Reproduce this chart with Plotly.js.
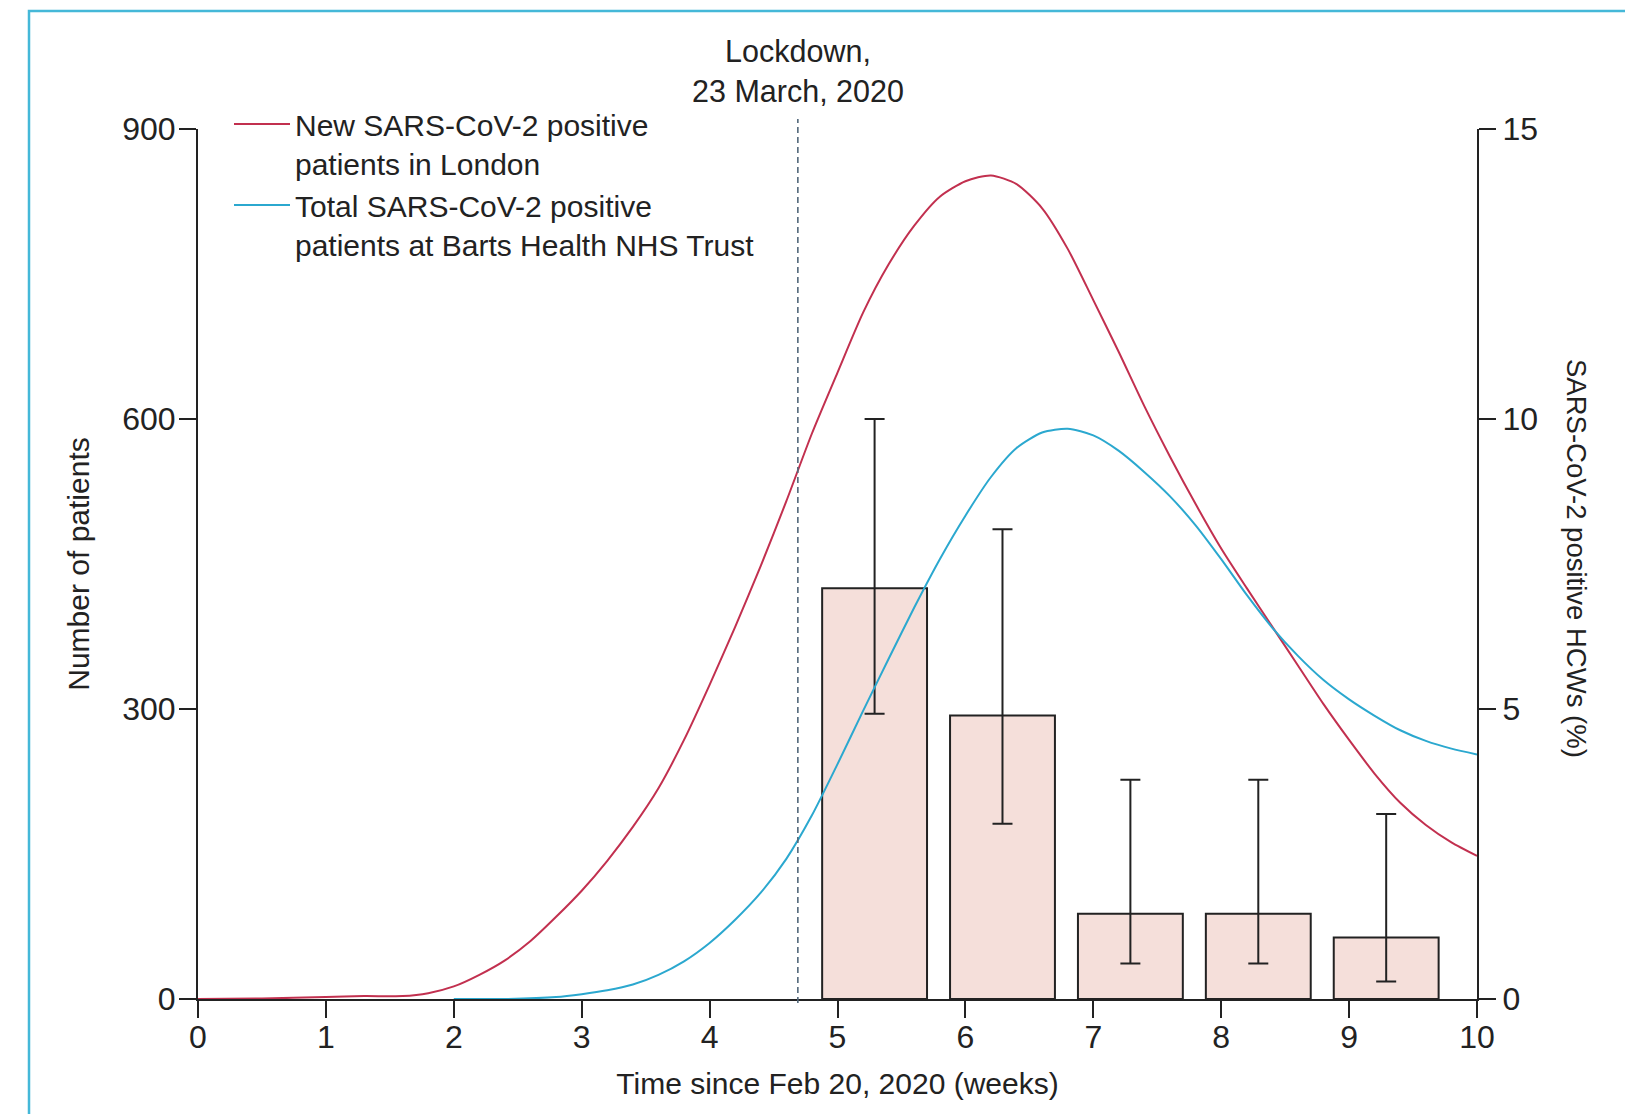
<!DOCTYPE html>
<html>
<head>
<meta charset="utf-8">
<script src="https://cdn.plot.ly/plotly-3.0.1.min.js"></script>
<style>
  html, body { margin: 0; padding: 0; background: #fff; }
  #chart { width: 1625px; height: 1114px; }
</style>
</head>
<body>
<div id="chart"></div>
<script>
// ---- Data ----
// New SARS-CoV-2 positive patients in London (left axis)
const weeksLondon = [0, 0.5, 1.0, 1.3, 1.6, 1.8, 2.0, 2.2, 2.4, 2.6, 2.8, 3.0, 3.2, 3.4, 3.6, 3.8, 4.0, 4.2, 4.4, 4.6, 4.8, 5.0, 5.2, 5.4, 5.6, 5.8, 6.0, 6.2, 6.4, 6.6, 6.8, 7.0, 7.2, 7.4, 7.6, 7.8, 8.0, 8.2, 8.4, 8.6, 8.8, 9.0, 9.2, 9.4, 9.6, 9.8, 10.0];
const londonNew = [0, 0.5, 2, 3, 3, 6, 13, 25, 40, 60, 85, 112, 143, 178, 218, 268, 325, 385, 448, 515, 585, 648, 710, 760, 800, 830, 846, 852, 843, 818, 776, 723, 669, 613, 561, 512, 466, 425, 385, 345, 305, 268, 233, 203, 180, 162, 148];

// Total SARS-CoV-2 positive patients at Barts Health NHS Trust (left axis)
const weeksBarts = [2.0, 2.4, 2.8, 3.0, 3.2, 3.4, 3.6, 3.8, 4.0, 4.2, 4.4, 4.6, 4.8, 5.0, 5.2, 5.4, 5.6, 5.8, 6.0, 6.2, 6.4, 6.6, 6.8, 7.0, 7.2, 7.4, 7.6, 7.8, 8.0, 8.2, 8.4, 8.6, 8.8, 9.0, 9.2, 9.4, 9.6, 9.8, 10.0];
const bartsTotal = [0, 0, 2, 5, 9, 15, 25, 39, 58, 82, 110, 145, 190, 243, 298, 352, 405, 455, 500, 540, 570, 586, 590, 583, 567, 545, 520, 490, 455, 418, 384, 355, 330, 310, 293, 278, 267, 259, 253];

// SARS-CoV-2 positive HCWs (%) with confidence limits (right axis)
const hcwWeeks = [5.29, 6.29, 7.29, 8.29, 9.29];
const hcwPercent = [7.08, 4.89, 1.47, 1.47, 1.06];
const hcwUpper = [10.0, 8.1, 3.78, 3.78, 3.19];
const hcwLower = [4.92, 3.02, 0.61, 0.61, 0.30];

// Lockdown marker
const lockdownWeek = 4.69;
const lockdownLabel = "Lockdown,<br>23 March, 2020";

// Tick labels
const xTicks = [0, 1, 2, 3, 4, 5, 6, 7, 8, 9, 10];
const patientTicks = [0, 300, 600, 900];
const hcwTicks = [0, 5, 10, 15];

// ---- Styles ----
const FONT = "'Liberation Sans', Arial, sans-serif";
const INK = "#222222";
const RED = "#c2304f";
const BLUE = "#2ba8cf";

const traces = [
  {
    type: "bar",
    x: hcwWeeks,
    y: hcwPercent,
    yaxis: "y",
    width: 0.82,
    marker: { color: "#f5dfda", line: { color: INK, width: 2 } },
    error_y: {
      type: "data",
      symmetric: false,
      array: hcwUpper.map((u, i) => u - hcwPercent[i]),
      arrayminus: hcwLower.map((l, i) => hcwPercent[i] - l),
      color: INK,
      thickness: 2,
      width: 10
    },
    showlegend: false,
    hoverinfo: "x+y"
  },
  {
    type: "scatter",
    mode: "lines",
    x: weeksLondon,
    y: londonNew,
    yaxis: "y2",
    name: "New SARS-CoV-2 positive<br>patients in London",
    line: { color: RED, width: 2, shape: "spline", smoothing: 0.7 }
  },
  {
    type: "scatter",
    mode: "lines",
    x: weeksBarts,
    y: bartsTotal,
    yaxis: "y2",
    name: "Total SARS-CoV-2 positive<br>patients at Barts Health NHS Trust",
    line: { color: BLUE, width: 2, shape: "spline", smoothing: 0.7 }
  }
];

const L = 198, R = 148, T = 129, B = 115;
const W = 1625, H = 1114;
const pw = W - L - R, ph = H - T - B;
const px = (p) => (p - L) / pw;           // pixel x -> paper
const py = (p) => (H - B - p) / ph;       // pixel y -> paper

const TICKFONT = { family: FONT, size: 32, color: INK };

const layout = {
  width: W,
  height: H,
  margin: { l: L, r: R, t: T, b: B },
  paper_bgcolor: "#ffffff",
  plot_bgcolor: "#ffffff",
  font: { family: FONT, size: 30, color: INK },
  bargap: 0,
  xaxis: {
    range: [0, 10],
    tickvals: xTicks,
    ticktext: xTicks.map(String),
    ticks: "outside",
    ticklen: 17,
    tickwidth: 2,
    tickcolor: INK,
    ticklabelstandoff: -8,
    showline: true,
    linecolor: INK,
    linewidth: 2,
    showgrid: false,
    zeroline: false,
    tickfont: TICKFONT,
    title: { text: "Time since Feb 20, 2020 (weeks)", font: { family: FONT, size: 30, color: INK }, standoff: 19 }
  },
  yaxis: {
    range: [0, 15],
    side: "right",
    tickvals: hcwTicks,
    ticktext: hcwTicks.map(String),
    ticks: "outside",
    ticklen: 17,
    tickwidth: 2,
    tickcolor: INK,
    showline: true,
    linecolor: INK,
    linewidth: 2,
    showgrid: false,
    zeroline: false,
    tickfont: TICKFONT
  },
  yaxis2: {
    range: [0, 900],
    overlaying: "y",
    side: "left",
    tickvals: patientTicks,
    ticktext: patientTicks.map(String),
    ticks: "outside",
    ticklen: 17,
    tickwidth: 2,
    tickcolor: INK,
    ticklabelstandoff: -3,
    showline: true,
    linecolor: INK,
    linewidth: 2,
    showgrid: false,
    zeroline: false,
    tickfont: TICKFONT,
    title: { text: "Number of patients", font: { family: FONT, size: 30, color: INK }, standoff: 24 }
  },
  legend: {
    x: px(229),
    y: py(98),
    xanchor: "left",
    yanchor: "top",
    bgcolor: "rgba(0,0,0,0)",
    font: { family: FONT, size: 30, color: INK },
    valign: "top",
    tracegroupgap: 0,
    itemwidth: 56
  },
  shapes: [
    {
      type: "line",
      xref: "x", yref: "paper",
      x0: lockdownWeek, x1: lockdownWeek,
      y0: py(1003), y1: py(119),
      line: { color: "#52677a", width: 1.6, dash: "6px,4px" }
    },
    {
      type: "rect",
      xref: "paper", yref: "paper",
      x0: px(29), x1: px(1700),
      y0: py(1200), y1: py(11),
      line: { color: "#45b8d8", width: 2.5 },
      fillcolor: "rgba(0,0,0,0)",
      layer: "above"
    }
  ],
  annotations: [
    {
      xref: "x", yref: "paper",
      x: lockdownWeek, y: py(71),
      xanchor: "center", yanchor: "middle",
      text: lockdownLabel,
      showarrow: false,
      font: { family: FONT, size: 30.5, color: INK }
    },
    {
      xref: "paper", yref: "paper",
      x: px(1577), y: py(558),
      xanchor: "center", yanchor: "middle",
      text: "SARS-CoV-2 positive HCWs (%)",
      textangle: 90,
      showarrow: false,
      font: { family: FONT, size: 27.5, color: INK }
    }
  ]
};

Plotly.newPlot("chart", traces, layout, { displayModeBar: false, staticPlot: true });
</script>
</body>
</html>
